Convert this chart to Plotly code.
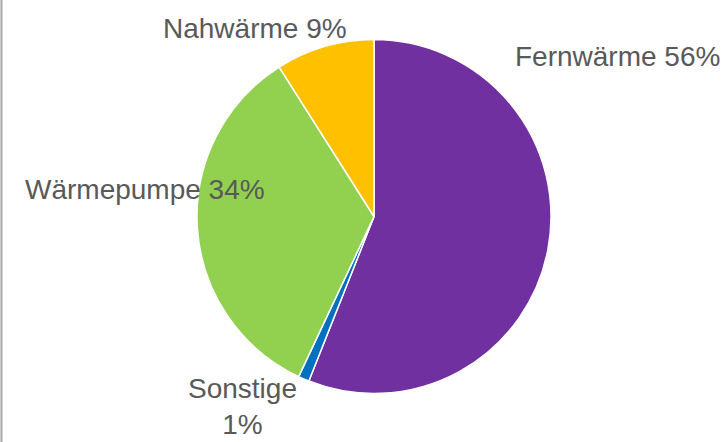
import plotly.graph_objects as go

# Heat supply mix by source (percent)
labels = ["Fernwärme", "Sonstige", "Wärmepumpe", "Nahwärme"]
shares = [56, 1, 34, 9]

colors = ["#7030A0", "#0070C0", "#92D050", "#FFC000"]

# Label placement (pixel centre of each label, and separator between name and value)
W, H = 727, 442
label_px = [(617, 57), (243, 406), (145, 189), (255, 29)]
label_sep = [" ", "<br>", " ", " "]

fig = go.Figure()
fig.add_trace(go.Pie(
    labels=labels,
    values=shares,
    sort=False,
    direction="clockwise",
    rotation=0,
    marker=dict(colors=colors, line=dict(color="white", width=1.5)),
    textinfo="none",
    hoverinfo="label+percent",
    showlegend=False,
    domain=dict(x=[197 / W, 551 / W], y=[1 - 394 / H, 1 - 39 / H]),
))

for name, val, (px, py), sep in zip(labels, shares, label_px, label_sep):
    fig.add_annotation(
        x=px / W, y=1 - py / H, xref="paper", yref="paper",
        text=f"{name}{sep}{val}%",
        showarrow=False, xanchor="center", yanchor="middle",
        font=dict(family="Liberation Sans, Arial, sans-serif", size=28, color="#595959"),
    )

# thin grey frame line on the left edge
fig.add_shape(type="line", xref="paper", yref="paper",
              x0=0.002, x1=0.002, y0=0, y1=1,
              line=dict(color="#A6A6A6", width=2))

fig.update_layout(
    width=W, height=H,
    margin=dict(l=0, r=0, t=0, b=0),
    paper_bgcolor="white",
    plot_bgcolor="white",
)

fig.write_html("out.html")
